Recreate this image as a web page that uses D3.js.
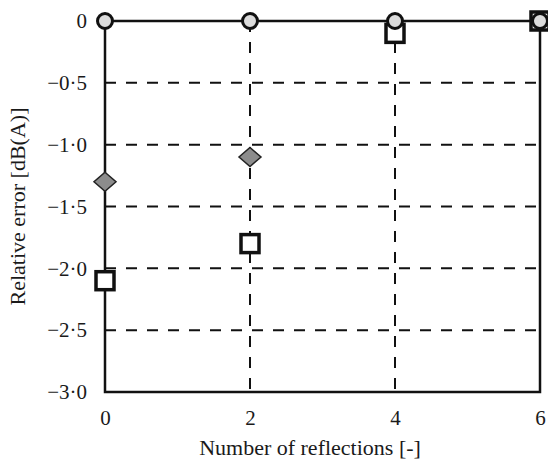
<!DOCTYPE html>
<html>
<head>
<meta charset="utf-8">
<script src="https://cdn.jsdelivr.net/npm/d3@7"></script>
<style>
  body { margin: 0; background: #fff; }
  text { font-family: "Liberation Serif", "DejaVu Serif", serif; fill: #1a1a1a; }
</style>
</head>
<body>
<div id="chart"></div>
<script>
// data
var reflections = [0, 2, 4, 6];
var circleErr = [0, 0, 0, 0];
var diamondErr = [-1.3, -1.1, null, null];   // no diamond visible at 4 and 6
var squareErr = [-2.1, -1.8, -0.1, 0];
var yTicks = [0, -0.5, -1.0, -1.5, -2.0, -2.5, -3.0];
var xTicks = [0, 2, 4, 6];
var gridX = [2, 4];

var width = 548, height = 460;
var margin = {top: 21, right: 8, bottom: 68, left: 105};

var svg = d3.select("#chart").append("svg")
    .attr("width", width)
    .attr("height", height);

var x = d3.scaleLinear().domain([0, 6]).range([margin.left, 540]);
var y = d3.scaleLinear().domain([-3, 0]).range([392, margin.top]);

// tick labels like "−0·5"
function fmt(d) {
  if (d === 0) return "0";
  return "\u2212" + d3.format(".1f")(Math.abs(d)).replace(".", "\u00b7");
}

// dashed grid
svg.append("g").selectAll("line")
  .data(yTicks.filter(function(d){ return d < 0 && d > -3; }))
  .enter().append("line")
  .attr("x1", x(0)).attr("x2", x(6))
  .attr("y1", function(d){ return y(d); })
  .attr("y2", function(d){ return y(d); })
  .attr("stroke", "#111").attr("stroke-width", 2)
  .attr("stroke-dasharray", "11,10");

svg.append("g").selectAll("line")
  .data(gridX)
  .enter().append("line")
  .attr("x1", function(d){ return x(d); })
  .attr("x2", function(d){ return x(d); })
  .attr("y1", y(0)).attr("y2", y(-3))
  .attr("stroke", "#111").attr("stroke-width", 2)
  .attr("stroke-dasharray", "11,10");

// frame
svg.append("rect")
  .attr("x", x(0)).attr("y", y(0))
  .attr("width", x(6) - x(0)).attr("height", y(-3) - y(0))
  .attr("fill", "none").attr("stroke", "#111").attr("stroke-width", 2.5);

// axes (no tick marks, just labels)
var yAxis = svg.append("g")
  .attr("transform", "translate(" + x(0) + ",0)")
  .call(d3.axisLeft(y).tickValues(yTicks).tickFormat(fmt).tickSize(0).tickPadding(18));
yAxis.select(".domain").remove();
yAxis.selectAll("text").style("font-size", "21px")
  .style("font-family", "Liberation Serif, serif").attr("fill", "#1a1a1a");

var xAxis = svg.append("g")
  .attr("transform", "translate(0," + y(-3) + ")")
  .call(d3.axisBottom(x).tickValues(xTicks).tickFormat(d3.format("d")).tickSize(0).tickPadding(18));
xAxis.select(".domain").remove();
xAxis.selectAll("text").style("font-size", "21px")
  .style("font-family", "Liberation Serif, serif").attr("fill", "#1a1a1a");

// axis titles
svg.append("text")
  .attr("x", 310).attr("y", 455)
  .attr("text-anchor", "middle")
  .style("font-size", "22px")
  .text("Number of reflections [-]");

svg.append("text")
  .attr("transform", "translate(25," + y(-1.5) + ") rotate(-90)")
  .attr("text-anchor", "middle")
  .style("font-size", "22px")
  .text("Relative error [dB(A)]");

// squares
var sq = 18;
svg.append("g").selectAll("rect")
  .data(reflections)
  .enter().append("rect")
  .attr("x", function(d){ return x(d) - sq / 2; })
  .attr("y", function(d, i){ return y(squareErr[i]) - sq / 2; })
  .attr("width", sq).attr("height", sq)
  .attr("fill", "#fff").attr("stroke", "#111").attr("stroke-width", 3.5);

// diamonds
var dw = 11, dh = 9.5;
svg.append("g").selectAll("path")
  .data(reflections.filter(function(d, i){ return diamondErr[i] !== null; }))
  .enter().append("path")
  .attr("d", function(d, i){
    var cx = x(d), cy = y(diamondErr[i]);
    return "M" + cx + "," + (cy - dh) + "L" + (cx + dw) + "," + cy +
           "L" + cx + "," + (cy + dh) + "L" + (cx - dw) + "," + cy + "Z";
  })
  .attr("fill", "#8c8c8c").attr("stroke", "#222").attr("stroke-width", 1.5);

// circles
svg.append("g").selectAll("circle")
  .data(reflections)
  .enter().append("circle")
  .attr("cx", function(d){ return x(d); })
  .attr("cy", function(d, i){ return y(circleErr[i]); })
  .attr("r", 7.5)
  .attr("fill", "#dcdcdc").attr("stroke", "#111").attr("stroke-width", 3);
</script>
</body>
</html>
